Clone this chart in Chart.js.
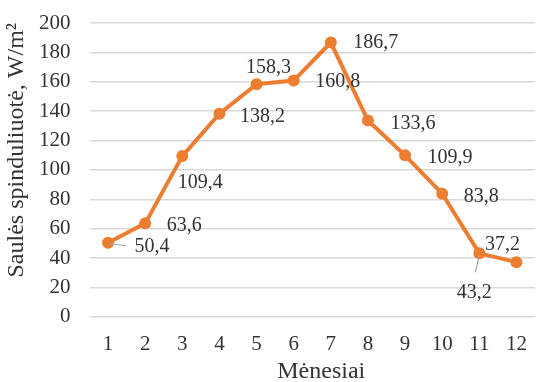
<!DOCTYPE html>
<html>
<head>
<meta charset="utf-8">
<script src="https://cdn.jsdelivr.net/npm/chart.js@4/dist/chart.umd.min.js"></script>
<style>
  html, body { margin: 0; padding: 0; background: #fff; overflow: hidden; }
  #wrap { width: 537px; height: 382px; overflow: hidden; }
  canvas { display: block; }
</style>
</head>
<body>
<div id="wrap"><canvas id="c" width="541" height="382"></canvas></div>
<script>
// Months and monthly mean solar irradiance (W/m²)
const months = ['1', '2', '3', '4', '5', '6', '7', '8', '9', '10', '11', '12'];
const irradiance = [50.4, 63.6, 109.4, 138.2, 158.3, 160.8, 186.7, 133.6, 109.9, 83.8, 43.2, 37.2];
const yTicks = [0, 20, 40, 60, 80, 100, 120, 140, 160, 180, 200];
const xTitle = 'Mėnesiai';
const yTitle = 'Saulės spinduliuotė, W/m²';

// Label placement relative to each point (label centre offset, px)
const labelOffsets = [
  [44, 4], [39, 2], [18, 27], [43, 3], [12, -17], [44, 1],
  [45, 0], [45, 3], [45, 2], [39, 3], [-5, 39], [-14, -17]
];
// Short connector lines for labels placed away from their points
const connectors = { 0: [[2, 1], [18, 3]], 10: [[0, 2], [-4, 19]] };

const SERIF = '"Liberation Serif", "Times New Roman", serif';
const TEXT = '#333333';
const GRID = '#d9d9d9';
const ORANGE = '#ED7D31';

const fmt = v => v.toFixed(1).replace('.', ',');

const valueLabels = {
  id: 'valueLabels',
  afterDatasetsDraw(chart) {
    const ctx = chart.ctx;
    const meta = chart.getDatasetMeta(0);
    const data = chart.data.datasets[0].data;
    ctx.save();
    // connectors
    ctx.strokeStyle = '#a6a6a6';
    ctx.lineWidth = 1.2;
    Object.keys(connectors).forEach(k => {
      const p = meta.data[k];
      const [a, b] = connectors[k];
      ctx.beginPath();
      ctx.moveTo(p.x + a[0], p.y + a[1]);
      ctx.lineTo(p.x + b[0], p.y + b[1]);
      ctx.stroke();
    });
    ctx.font = '20px ' + SERIF;
    ctx.fillStyle = TEXT;
    ctx.textAlign = 'center';
    ctx.textBaseline = 'middle';
    meta.data.forEach((p, i) => {
      const [dx, dy] = labelOffsets[i];
      ctx.fillText(fmt(data[i]), p.x + dx, p.y + dy);
    });
    // category axis title, centred under the plot
    const area = chart.chartArea;
    ctx.font = '24px ' + SERIF;
    ctx.fillText(xTitle, (area.left + area.right) / 2 + 9, 372);
    ctx.restore();
  }
};

new Chart(document.getElementById('c'), {
  type: 'line',
  data: {
    labels: months,
    datasets: [{
      data: irradiance,
      borderColor: ORANGE,
      backgroundColor: ORANGE,
      borderWidth: 4,
      pointRadius: 6,
      pointBorderWidth: 0,
      pointBackgroundColor: ORANGE,
      tension: 0,
      clip: false
    }]
  },
  options: {
    responsive: false,
    animation: false,
    events: [],
    layout: { padding: { top: 23, left: 0, right: 0, bottom: 25 } },
    plugins: { legend: { display: false }, tooltip: { enabled: false } },
    scales: {
      x: {
        offset: true,
        grid: { display: true, drawOnChartArea: false, drawTicks: true, tickLength: 15, tickColor: 'transparent', offset: true },
        border: { display: false },
        ticks: { color: TEXT, padding: 0, font: { family: SERIF, size: 21 }, maxRotation: 0, autoSkip: false },
        title: { display: false }
      },
      y: {
        min: 0,
        max: 200,
        afterBuildTicks(scale) { scale.ticks = yTicks.map(v => ({ value: v })); },
        grid: { color: GRID, lineWidth: 1.5, drawTicks: true, tickLength: 19, tickColor: 'transparent' },
        border: { display: false },
        ticks: { color: TEXT, padding: 0, font: { family: SERIF, size: 21 } },
        title: { display: true, text: yTitle, align: 'end', color: TEXT, font: { family: SERIF, size: 24, lineHeight: 1 }, padding: { top: 5, bottom: 10 } }
      }
    }
  },
  plugins: [valueLabels]
});
</script>
</body>
</html>
